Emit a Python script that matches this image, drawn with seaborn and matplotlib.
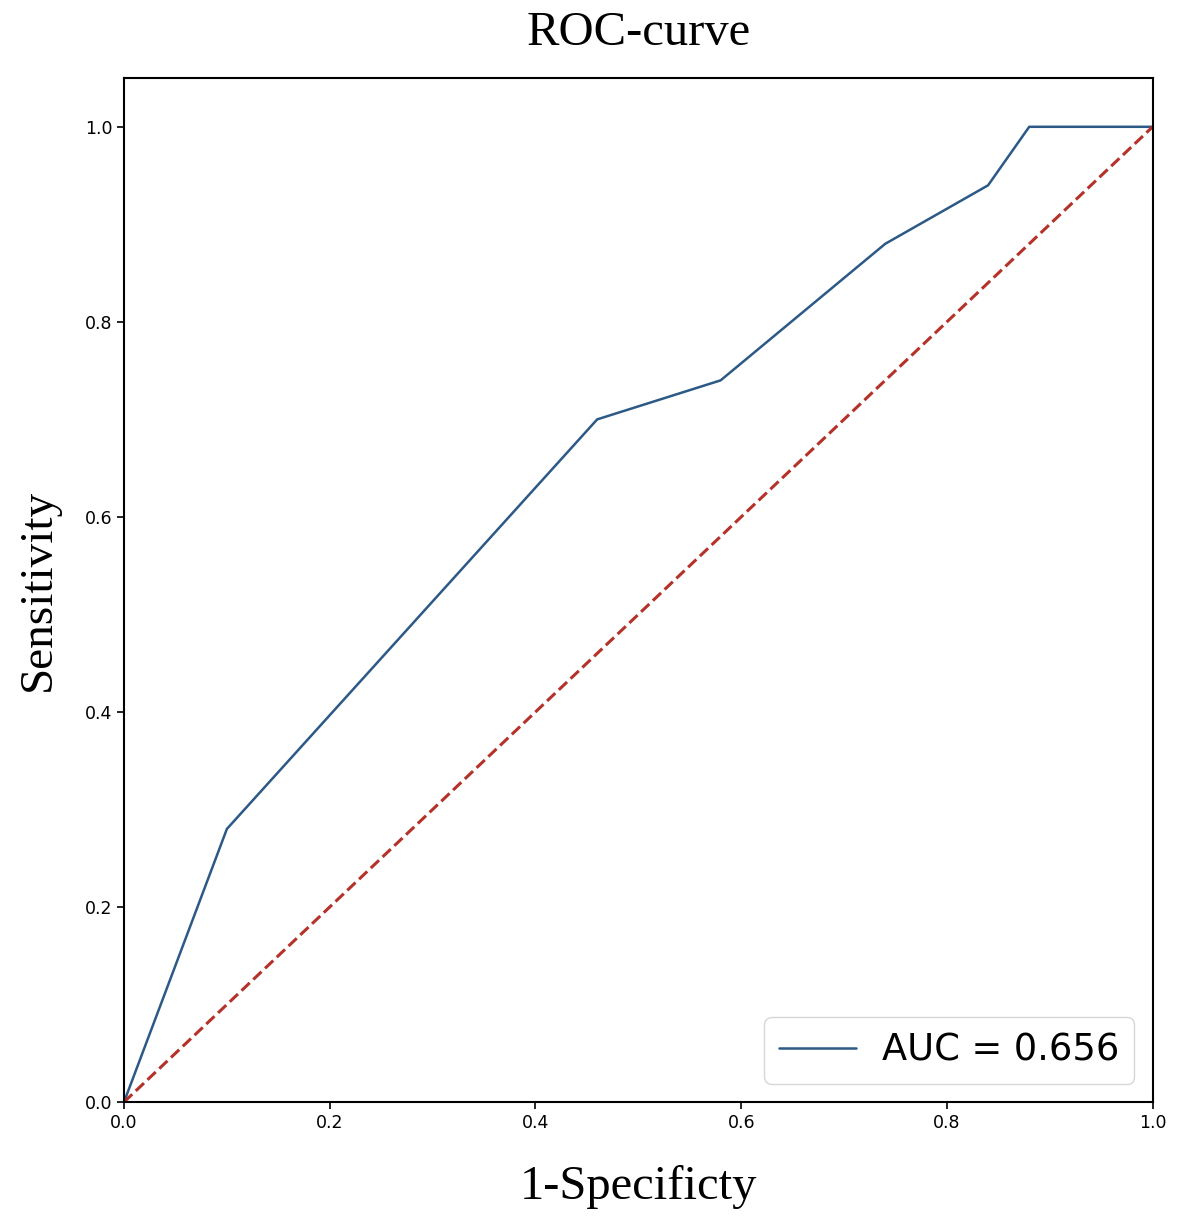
import matplotlib
matplotlib.use("Agg")
import matplotlib.pyplot as plt
import seaborn as sns
import pandas as pd

# ROC curve points
fpr = [0.0, 0.10, 0.46, 0.58, 0.74, 0.84, 0.88, 1.0]
tpr = [0.0, 0.28, 0.70, 0.74, 0.88, 0.94, 1.0, 1.0]
auc_label = "AUC = 0.656"
chance = [0.0, 1.0]

sns.set_style("ticks")
plt.rcParams['font.family'] = ['DejaVu Sans']
plt.rcParams['text.color'] = 'black'
plt.rcParams['axes.labelcolor'] = 'black'
plt.rcParams['xtick.color'] = 'black'
plt.rcParams['ytick.color'] = 'black'
plt.rcParams['axes.edgecolor'] = 'black'

df = pd.DataFrame({"fpr": fpr, "tpr": tpr})

fig = plt.figure(figsize=(11.81, 12.29), dpi=100)
ax = fig.add_axes([0.105, 0.1033, 0.871, 0.8332])

sns.lineplot(data=df, x="fpr", y="tpr", ax=ax, color="#2c5985",
             linewidth=1.8, label=auc_label, sort=False)
ax.plot(chance, chance, color="#b5322a", linestyle="--", linewidth=2.2)

ax.set_xlim(0, 1)
ax.set_ylim(0, 1.05)
ax.set_xticks([0.0, 0.2, 0.4, 0.6, 0.8, 1.0])
ax.set_yticks([0.0, 0.2, 0.4, 0.6, 0.8, 1.0])
ax.tick_params(labelsize=12.5, width=1.2, length=5)
for s in ax.spines.values():
    s.set_linewidth(1.5)

serif = ['Liberation Serif', 'DejaVu Serif']
ax.set_title("ROC-curve", fontsize=35, family=serif, pad=24)
ax.set_xlabel("1-Specificty", fontsize=35, family=serif, labelpad=24)
ax.set_ylabel("Sensitivity", fontsize=34, family=serif, labelpad=18)

leg = ax.legend(loc="lower right", fontsize=26.5, handlelength=2.1,
                handletextpad=0.7, borderpad=0.4, frameon=True)

fig.savefig("out.png", dpi=100)
